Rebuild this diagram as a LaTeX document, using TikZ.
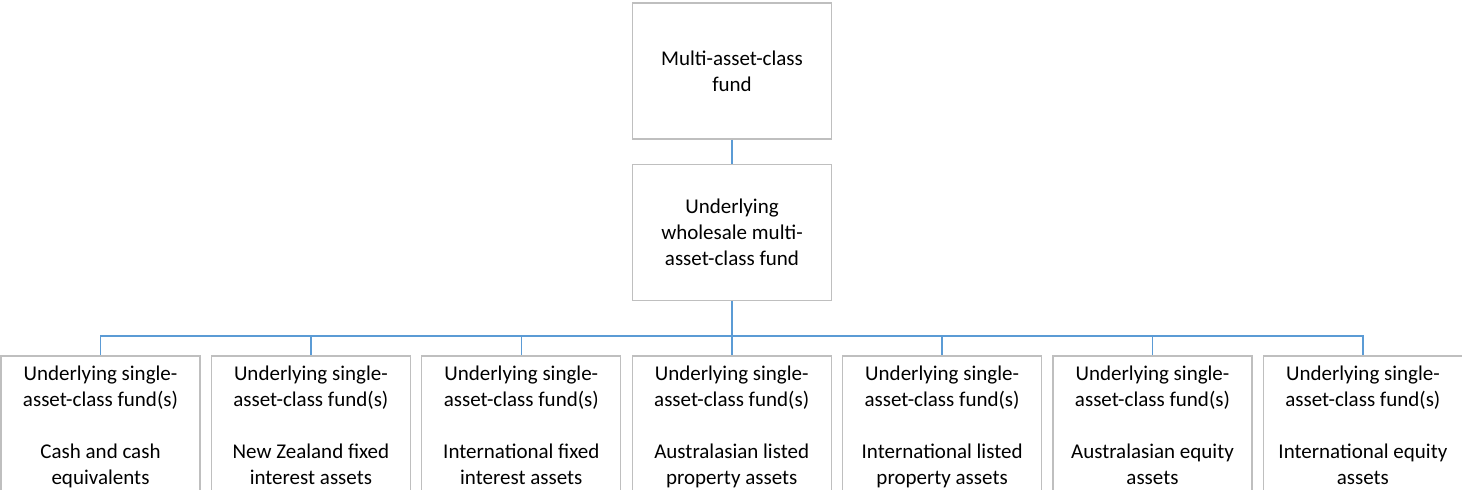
\documentclass[tikz,border=0pt]{standalone}
\usepackage{fontspec}
\setmainfont{Carlito}
\usepackage{tikz}
\usetikzlibrary{calc}
\definecolor{boxgray}{RGB}{191,191,191}
\definecolor{linkblue}{RGB}{91,155,213}

\begin{document}
\begin{tikzpicture}[
  fund/.style={draw=boxgray, line width=0.6pt, align=center,
    inner xsep=2pt, inner ysep=0pt,
    minimum width=99.5pt, minimum height=68pt,
    font=\fontsize{10.5}{13}\selectfont},
  link/.style={draw=linkblue, line width=0.8pt}]
\useasboundingbox (0,0) rectangle (731pt,-245pt);

\node[fund] (multi) at (366pt,-35.5pt) {Multi-asset-class\\fund};
\node[fund] (whole) at (366pt,-116.25pt) {Underlying\\wholesale multi-\\asset-class fund};
\coordinate (bus) at (366pt,-168pt);

\foreach \i/\txt in {1/{Cash and cash\\equivalents},2/{New Zealand fixed\\interest assets},3/{International fixed\\interest assets},4/{Australasian listed\\property assets},5/{International listed\\property assets},6/{Australasian equity\\assets},7/{International equity\\assets}} \node[fund] (single\i) at ({50.25pt+(\i-1)*105.2pt},-212pt) {\rule{0pt}{12pt}Underlying single-\\asset-class fund(s)\\[13pt]\txt\strut};

\draw[link] (multi) -- (whole);
\draw[link] (whole) -- (bus);
\foreach \i in {1,...,7} \draw[link] (bus) -| (single\i.north);

\end{tikzpicture}
\end{document}
